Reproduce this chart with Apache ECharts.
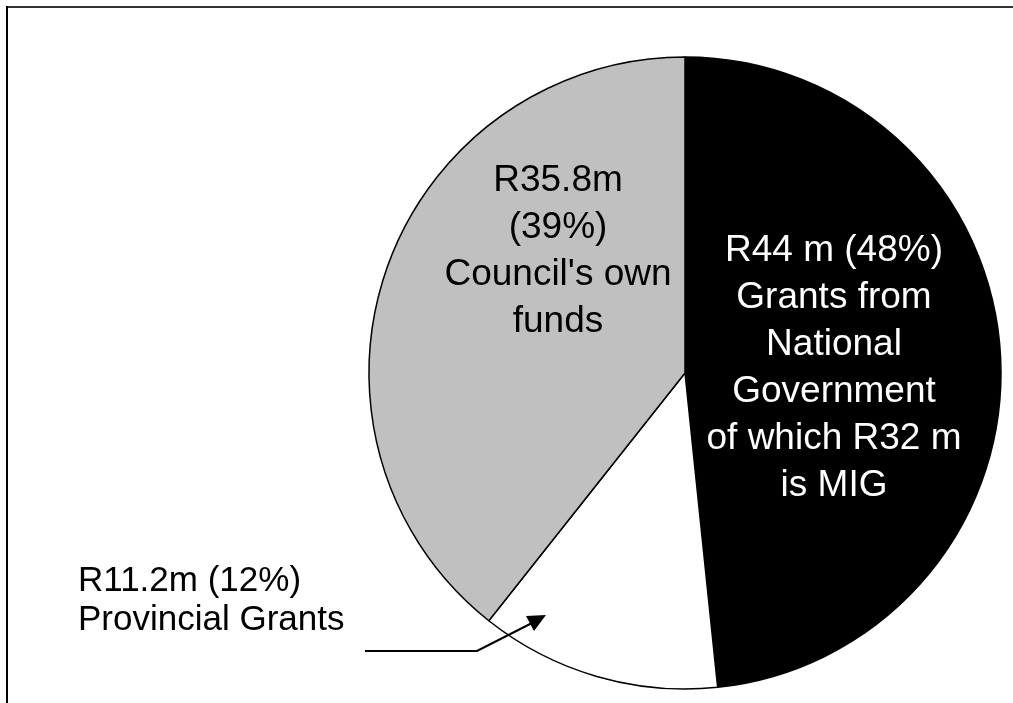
<!DOCTYPE html>
<html>
<head>
<meta charset="utf-8">
<script src="https://cdn.jsdelivr.net/npm/echarts@6/dist/echarts.min.js"></script>
<style>
html,body{margin:0;padding:0;background:#fff;}
#chart{width:1013px;height:703px;}
</style>
</head>
<body>
<div id="chart"></div>
<script>
// Data
var categories = ['National Government', 'Provincial Grants', "Council's own funds"];
var values = [44, 11.2, 35.8];
var labels = [
  'R44 m (48%)\nGrants from\nNational\nGovernment\nof which R32 m\nis MIG',
  'R11.2m (12%)\nProvincial Grants',
  "R35.8m\n(39%)\nCouncil's own\nfunds"
];
var colors = ['#000000', '#ffffff', '#c0c0c0'];
var labelColors = ['#ffffff', '#000000', '#000000'];

var chart = echarts.init(document.getElementById('chart'), null, {renderer: 'canvas'});

var data = categories.map(function (c, i) {
  var isOutside = i === 1;
  return {
    name: c,
    value: values[i],
    itemStyle: {color: colors[i]},
    label: {
      formatter: labels[i],
      color: labelColors[i],
      fontSize: isOutside ? 35 : 37,
      lineHeight: isOutside ? 39 : 47,
      align: isOutside ? 'left' : 'center'
    }
  };
});

var option = {
  animation: false,
  backgroundColor: '#ffffff',
  textStyle: {fontFamily: 'Liberation Sans, Arial, sans-serif'},
  series: [{
    type: 'pie',
    center: [685, 373],
    radius: [0, 316],
    startAngle: 90,
    clockwise: true,
    avoidLabelOverlap: false,
    silent: true,
    itemStyle: {borderColor: '#000', borderWidth: 1.5},
    label: {
      show: true,
      position: 'inside',
      fontFamily: 'Liberation Sans, Arial, sans-serif'
    },
    labelLine: {show: false},
    labelLayout: function (p) {
      if (p.dataIndex === 0) return {x: 834, y: 368, align: 'center', verticalAlign: 'middle'};
      if (p.dataIndex === 2) return {x: 558, y: 251, align: 'center', verticalAlign: 'middle'};
      return {x: 78, y: 601, align: 'left', verticalAlign: 'middle'};
    },
    data: data
  }],
  graphic: [
    {type: 'line', z: 100, shape: {x1: 7, y1: 7, x2: 1013, y2: 7}, style: {stroke: '#333', lineWidth: 2}},
    {type: 'line', z: 100, shape: {x1: 7, y1: 6, x2: 7, y2: 703}, style: {stroke: '#000', lineWidth: 2}},
    {type: 'polyline', z: 100, shape: {points: [[365, 651], [477, 651], [534, 622]]}, style: {stroke: '#000', lineWidth: 2.2, fill: null}},
    {type: 'polygon', z: 100, shape: {points: [[546, 615], [526, 616], [534, 631]]}, style: {fill: '#000'}}
  ]
};
chart.setOption(option);
</script>
</body>
</html>
